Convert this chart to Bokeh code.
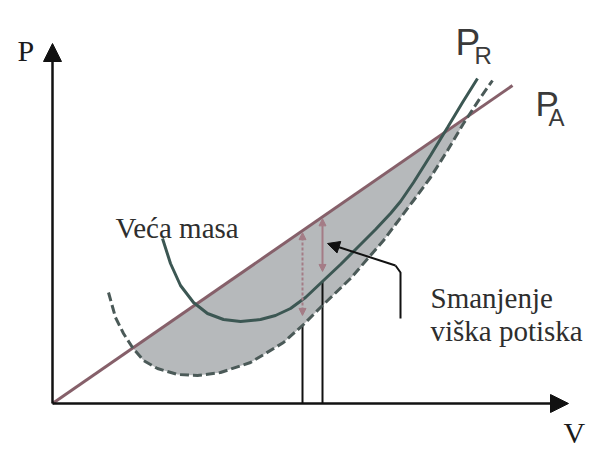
import numpy as np
from bokeh.plotting import figure
from bokeh.models import Range1d, Arrow, NormalHead
from bokeh.core.properties import value
from bokeh.embed import file_html
from bokeh.resources import INLINE

# ---- data (V, P in arbitrary units) ----
pa_v = [0.0, 11.5]
pa_p = [0.0, 7.95]

pr_heavy_v = [2.75, 2.95, 3.2, 3.525, 3.875, 4.275, 4.7, 5.2, 5.575, 5.95, 6.325,
              6.775, 7.2, 7.625, 8.075, 8.45, 8.7, 9.025, 9.45, 9.875, 10.25, 10.625]
pr_heavy_p = [4.125, 3.5, 2.95, 2.525, 2.25, 2.1, 2.05, 2.1, 2.2, 2.375, 2.65,
              3.075, 3.475, 3.9, 4.35, 4.75, 5.05, 5.525, 6.2, 6.9, 7.525, 8.125]

pr_light_v = [1.4, 1.575, 1.775, 2.0, 2.275, 2.625, 3.125, 3.625, 4.2, 4.95, 5.775,
              6.275, 6.775, 7.45, 8.275, 9.025, 9.45, 9.875, 10.275, 10.7, 11.0]
pr_light_p = [2.775, 2.15, 1.75, 1.4, 1.075, 0.875, 0.725, 0.7, 0.775, 1.025, 1.525,
              1.975, 2.475, 3.125, 4.075, 5.075, 5.65, 6.325, 7.0, 7.65, 8.075]

# speeds of max excess power (light mass, heavy mass)
v_marks = [6.25, 6.75]

# axes extents
axis_v_end = 12.9
axis_p_end = 9.0

# leader line of the annotation
leader_v = [8.7, 8.7, 8.575]
leader_p = [2.125, 3.275, 3.45]
leader_tip = (6.875, 4.0)

label_veca = "Veća masa"
label_sm1 = "Smanjenje"
label_sm2 = "viška potiska"

# ---- helpers ----
pa_v_a = np.array(pa_v); pa_p_a = np.array(pa_p)
def pa_at(v):
    return float(np.interp(v, pa_v_a, pa_p_a))

hv = np.array(pr_heavy_v); hp = np.array(pr_heavy_p)
lv = np.array(pr_light_v); lp = np.array(pr_light_p)

# shaded region between P_A and the light-mass curve
diff = lp - np.array([pa_at(v) for v in lv])
idx = np.where(np.sign(diff[:-1]) != np.sign(diff[1:]))[0]
i1, i2 = idx[0], idx[-1]
def cross(i):
    t = diff[i] / (diff[i] - diff[i + 1])
    v = lv[i] + t * (lv[i + 1] - lv[i])
    return v, pa_at(v)
c1 = cross(i1); c2 = cross(i2)
fill_x = [c1[0]] + list(lv[i1 + 1:i2 + 1]) + [c2[0]]
fill_y = [c1[1]] + list(lp[i1 + 1:i2 + 1]) + [c2[1]]

p = figure(width=592, height=449, x_range=Range1d(-1.3, 13.5), y_range=Range1d(-1.15, 10.075),
           output_backend="svg", toolbar_location=None, x_axis_type=None, y_axis_type=None,
           min_border=0)
p.grid.visible = False
p.outline_line_color = None
p.background_fill_color = "white"

p.patch(fill_x, fill_y, fill_color="#b6b9bb", line_color=None)

# vertical black lines from axis to curve
v1, v2 = v_marks
b1 = float(np.interp(v1, lv, lp))
b2 = float(np.interp(v2, hv, hp))
p.segment(x0=[v1, v2], y0=[0, 0], x1=[v1, v2], y1=[b1, b2], line_color="#111111", line_width=2)

p.line(pa_v, pa_p, line_color="#86606a", line_width=3)
p.line(pr_heavy_v, pr_heavy_p, line_color="#3c5753", line_width=3)
p.line(pr_light_v, pr_light_p, line_color="#4b5a58", line_width=3, line_dash="9 4")

# excess power arrows
pink = "#a47c86"
p.add_layout(Arrow(start=NormalHead(size=7, fill_color=pink, line_color=pink),
                   end=NormalHead(size=7, fill_color=pink, line_color=pink),
                   x_start=v1, y_start=b1 + 0.25, x_end=v1, y_end=pa_at(v1) - 0.05,
                   line_color=pink, line_width=2, line_dash="3 2"))
p.add_layout(Arrow(start=NormalHead(size=7, fill_color=pink, line_color=pink),
                   end=NormalHead(size=7, fill_color=pink, line_color=pink),
                   x_start=v2, y_start=b2 + 0.25, x_end=v2, y_end=pa_at(v2) - 0.05,
                   line_color=pink, line_width=2))

# axes
ax_c = "#111111"
p.add_layout(Arrow(end=NormalHead(size=18, fill_color=ax_c, line_color=ax_c),
                   x_start=0, y_start=0, x_end=axis_v_end, y_end=0, line_color=ax_c, line_width=2.5))
p.add_layout(Arrow(end=NormalHead(size=18, fill_color=ax_c, line_color=ax_c),
                   x_start=0, y_start=0, x_end=0, y_end=axis_p_end, line_color=ax_c, line_width=2.5))

# leader
p.line(leader_v, leader_p, line_color="#111111", line_width=2)
p.add_layout(Arrow(end=NormalHead(size=12, fill_color="#111111", line_color="#111111"),
                   x_start=leader_v[-1], y_start=leader_p[-1], x_end=leader_tip[0], y_end=leader_tip[1],
                   line_color="#111111", line_width=2))

serif = value("Liberation Serif")
sans = value("Liberation Sans")
txt = "#2e2e2e"
p.text(x=[-0.875], y=[8.825], text=["P"], text_font=serif, text_font_size="30px",
       text_color="#1a1a1a", text_baseline="alphabetic", text_align="left")
p.text(x=[12.775], y=[-0.72], text=["V"], text_font=serif, text_font_size="30px",
       text_color="#1a1a1a", text_baseline="alphabetic", text_align="left")
p.text(x=[1.575], y=[4.4], text=[label_veca], text_font=serif, text_font_size="29px",
       text_color=txt, text_baseline="alphabetic", text_align="left")
p.text(x=[9.45, 9.45], y=[2.65, 1.825], text=[label_sm1, label_sm2], text_font=serif,
       text_font_size="29px", text_color=txt, text_baseline="alphabetic", text_align="left")

# P_R and P_A labels
p.text(x=[10.075], y=[9.025], text=["P"], text_font=sans, text_font_size="37px",
       text_color="#3a3a3a", text_baseline="alphabetic", text_align="left")
p.text(x=[10.55], y=[8.7], text=["R"], text_font=sans, text_font_size="24px",
       text_color="#3a3a3a", text_baseline="alphabetic", text_align="left")
p.text(x=[12.075], y=[7.5], text=["P"], text_font=sans, text_font_size="35px",
       text_color="#3a3a3a", text_baseline="alphabetic", text_align="left")
p.text(x=[12.4], y=[7.15], text=["A"], text_font=sans, text_font_size="24px",
       text_color="#3a3a3a", text_baseline="alphabetic", text_align="left")

open("out.html", "w").write(file_html(p, INLINE))
